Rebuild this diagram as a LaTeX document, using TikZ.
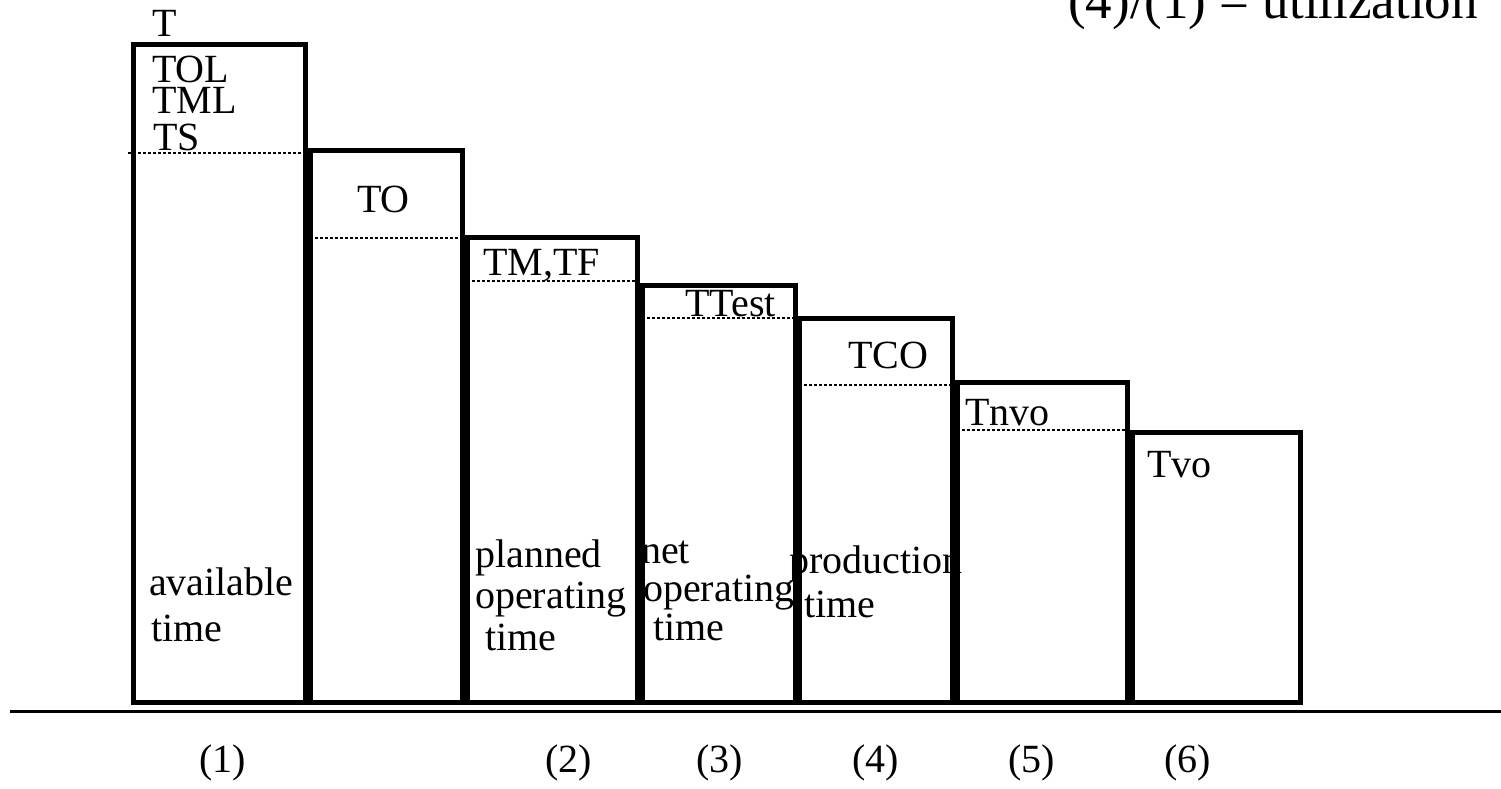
\documentclass[tikz,border=0pt]{standalone}
\usepackage{fontspec}
\setmainfont{Liberation Serif}
\begin{document}
\begin{tikzpicture}[x=1pt,y=-1pt,
  bar/.style={line width=5pt, line join=miter},
  sep/.style={line width=2.5pt, dash pattern=on 3pt off 2pt},
  lbl/.style={anchor=base west, inner sep=0pt, font=\fontsize{40}{44}\selectfont},
  big/.style={anchor=base east, inner sep=0pt, font=\fontsize{53}{56}\selectfont}
]
\useasboundingbox (0,0) rectangle (1501,788);
\clip (0,0) rectangle (1501,788);

% labels
\node[big] (util) at (1478,18) {(4)/(1) = utilization};
\node[lbl] (t) at (152,36) {T};
\node[lbl] (tol) at (152,82) {TOL};
\node[lbl] (tml) at (152,113) {TML};
\node[lbl] (ts) at (153,150) {TS};
\node[lbl] (to) at (357,212) {TO};
\node[lbl] (tmtf) at (483,275) {TM,TF};
\node[lbl] (ttest) at (685,316) {TTest};
\node[lbl] (tco) at (848,368) {TCO};
\node[lbl] (tnvo) at (965,425) {Tnvo};
\node[lbl] (tvo) at (1147,477) {Tvo};

\node[lbl] (av1) at (149,595) {available};
\node[lbl] (av2) at (151,641) {time};
\node[lbl] (pl1) at (475,567) {planned};
\node[lbl] (pl2) at (475,608) {operating};
\node[lbl] (pl3) at (485,650) {time};
\node[lbl] (ne1) at (641,563) {net};
\node[lbl] (ne2) at (643,601) {operating};
\node[lbl] (ne3) at (653,640) {time};
\node[lbl] (pr1) at (789,573) {production};
\node[lbl] (pr2) at (804,617) {time};

\node[lbl] (n1) at (199,772) {(1)};
\node[lbl] (n2) at (545,772) {(2)};
\node[lbl] (n3) at (696,772) {(3)};
\node[lbl] (n4) at (852,772) {(4)};
\node[lbl] (n5) at (1008,772) {(5)};
\node[lbl] (n6) at (1164,772) {(6)};

% dotted separators
\draw[sep] (128,153) -- (305,153);
\draw[sep] (310,238) -- (462,238);
\draw[sep] (467,281) -- (637,281);
\draw[sep] (642,318) -- (795,318);
\draw[sep] (799,385) -- (952,385);
\draw[sep] (957,430) -- (1127,430);

% bars
\draw[bar] (133,44) rectangle (305,702);
\draw[bar] (310,150) rectangle (462,702);
\draw[bar] (467,237) rectangle (637,702);
\draw[bar] (642,285) rectangle (795,702);
\draw[bar] (799,318) rectangle (952,702);
\draw[bar] (957,382) rectangle (1127,702);
\draw[bar] (1132,432) rectangle (1300,702);

% base line
\draw[line width=3pt] (10,711) -- (1501,711);
\end{tikzpicture}
\end{document}
